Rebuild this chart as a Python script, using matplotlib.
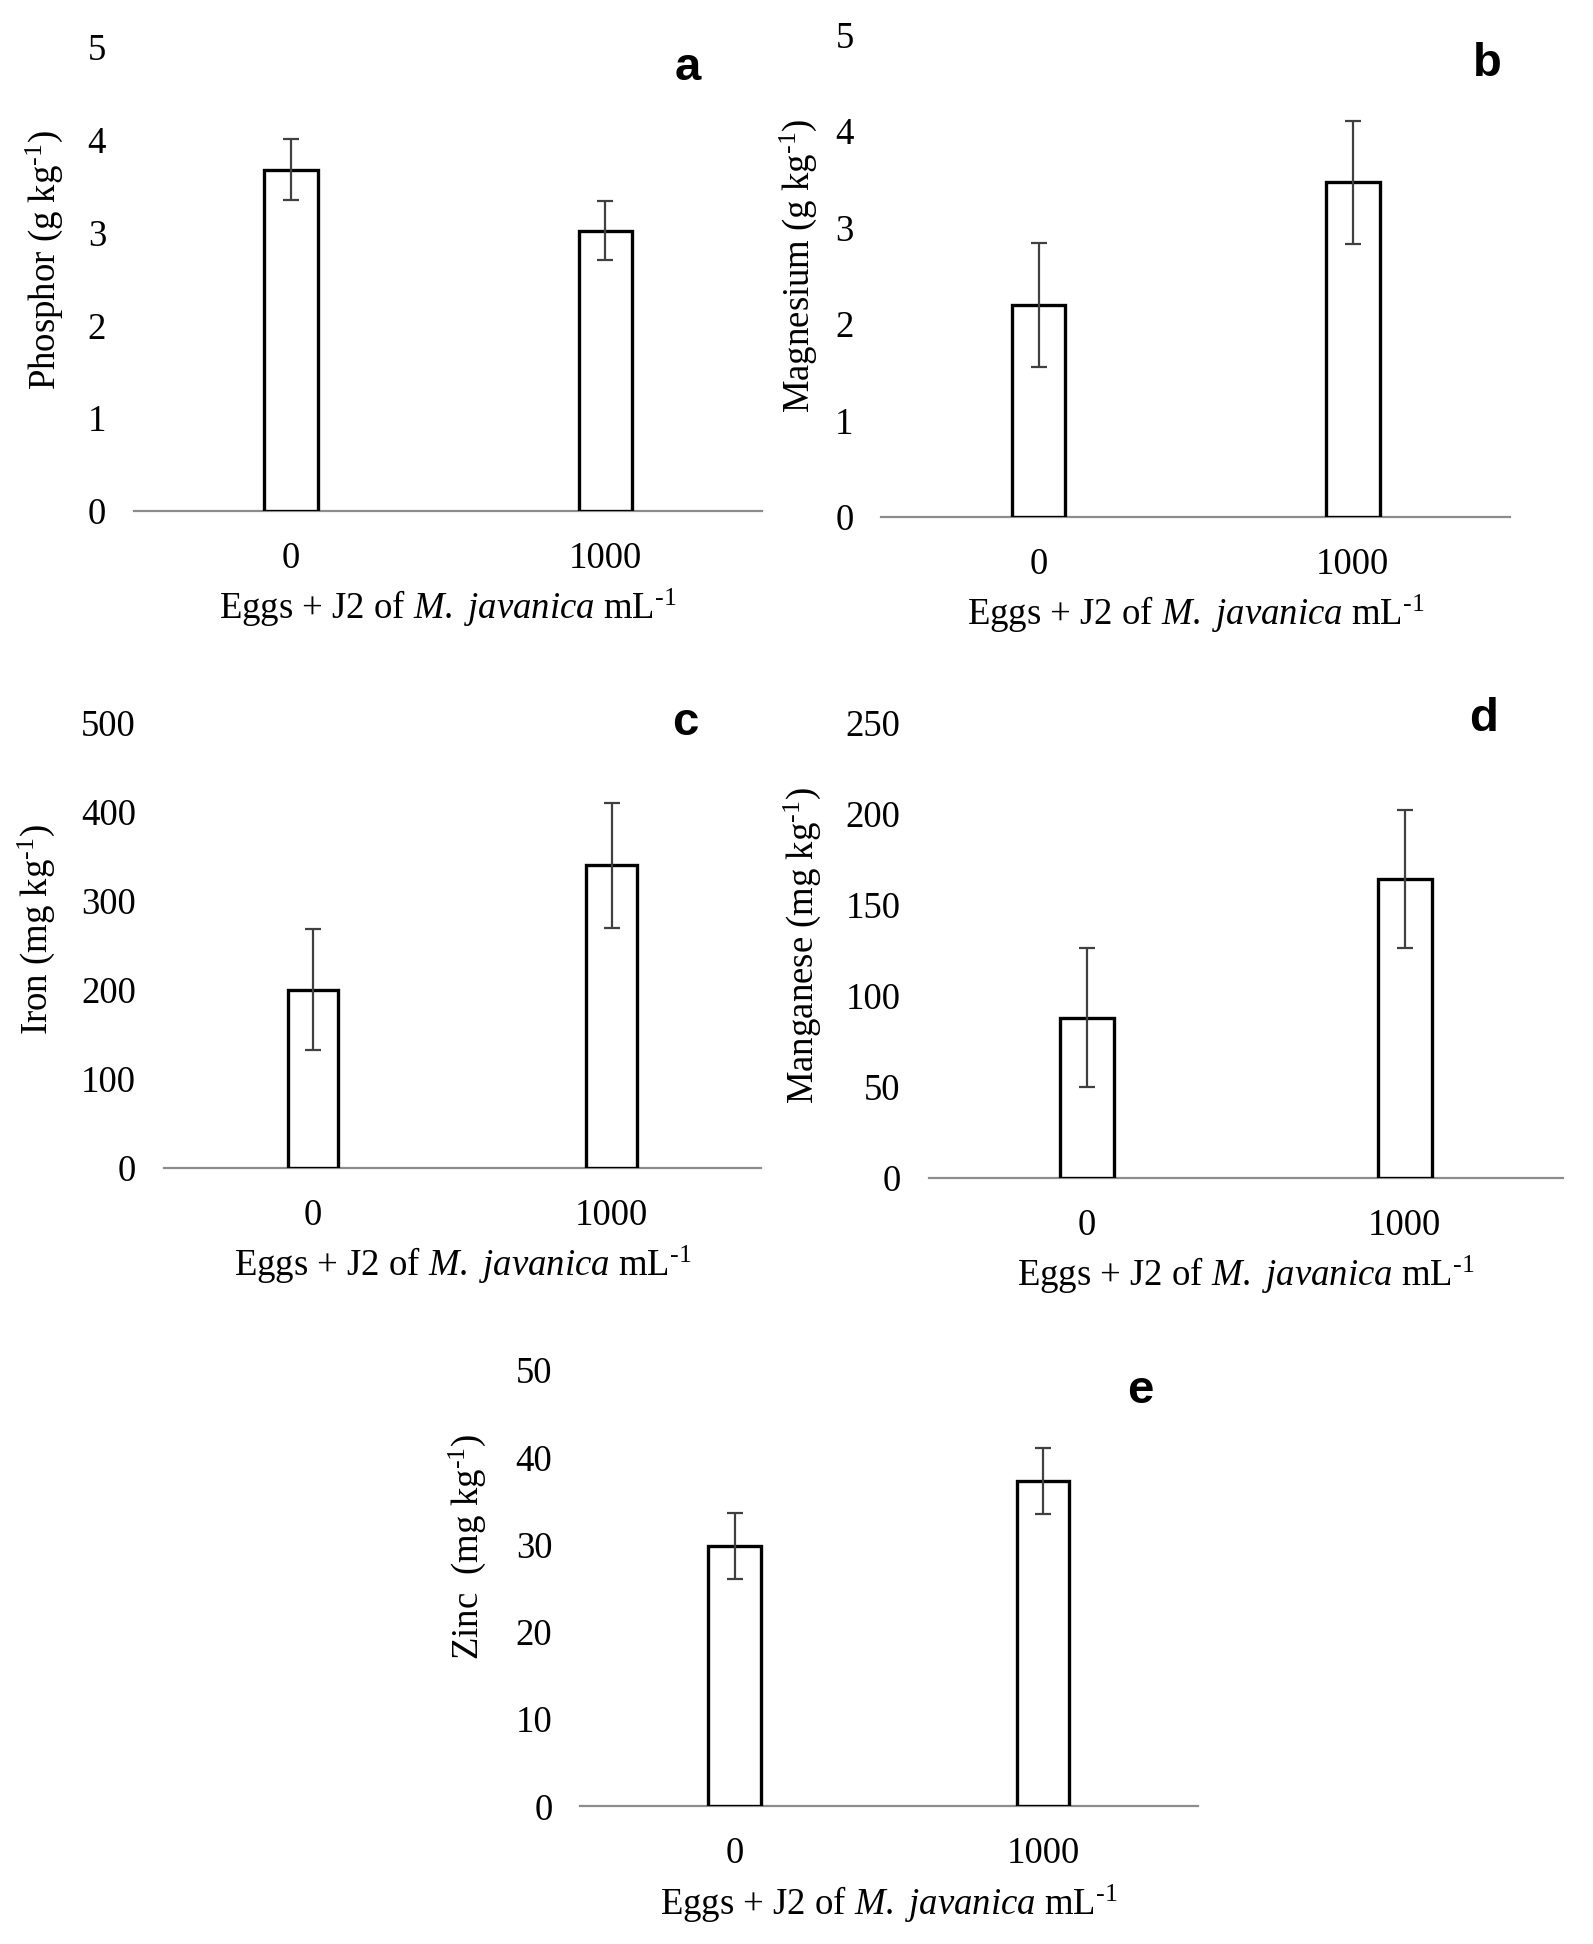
import matplotlib
matplotlib.use("Agg")
import matplotlib.pyplot as plt
import numpy as np

plt.rcParams['font.family'] = ['Liberation Serif', 'DejaVu Serif']
plt.rcParams['mathtext.fontset'] = 'custom'
plt.rcParams['mathtext.rm'] = 'Liberation Serif'
plt.rcParams['mathtext.it'] = 'Liberation Serif:italic'
plt.rcParams['mathtext.default'] = 'regular'

categories = ['0', '1000']

phosphor = [3.68, 3.02]
phosphor_err = [0.33, 0.32]
magnesium = [2.20, 3.47]
magnesium_err = [0.64, 0.64]
iron = [200, 340]
iron_err = [68, 70]
manganese = [88, 164]
manganese_err = [38, 38]
zinc = [29.8, 37.3]
zinc_err = [3.8, 3.8]

sup = r'$^{\text{-1}}$'
ylabels = ['Phosphor (g kg' + sup + ')', 'Magnesium (g kg' + sup + ')',
           'Iron (mg kg' + sup + ')', 'Manganese (mg kg' + sup + ')',
           'Zinc  (mg kg' + sup + ')']
yticks = [[0, 1, 2, 3, 4, 5], [0, 1, 2, 3, 4, 5],
          [0, 100, 200, 300, 400, 500], [0, 50, 100, 150, 200, 250],
          [0, 10, 20, 30, 40, 50]]
letters = ['a', 'b', 'c', 'd', 'e']
xlabel = r'Eggs + J2 of $\it{M.}$ $\it{javanica}$ mL' + sup

values = [phosphor, magnesium, iron, manganese, zinc]
errors = [phosphor_err, magnesium_err, iron_err, manganese_err, zinc_err]

W, H = 1285.0, 1568.0
# axes boxes in reference (shrunk) pixel coords: left, right, top, bottom
boxes = [(108, 615, 38, 412), (711, 1218, 28, 417), (132, 614, 583, 942),
         (749, 1261, 583, 950), (468, 966, 1105, 1457)]
ylab_pos = [(-0.109, 0.54), (-0.100, 0.52), (-0.179, 0.535), (-0.167, 0.51), (-0.149, 0.594)]
letter_pos = [(555, 55), (1200, 52), (553, 583), (1197, 580), (920, 1122)]

FS = 26.5

fig = plt.figure(figsize=(15.93, 19.44), dpi=100)

for i in range(5):
    l, r, t, b = boxes[i]
    ax = fig.add_axes([l / W, 1 - b / H, (r - l) / W, (b - t) / H])
    x = np.arange(len(categories))
    ax.bar(x, values[i], width=0.17, color='white', edgecolor='black', linewidth=2.4, zorder=2)
    ax.errorbar(x, values[i], yerr=errors[i], fmt='none', ecolor='#404040',
                elinewidth=1.6, capsize=6, capthick=1.6, zorder=3)
    ax.set_xlim(-0.5, 1.5)
    ax.set_ylim(yticks[i][0], yticks[i][-1])
    ax.set_yticks(yticks[i])
    ax.set_xticks(x)
    ax.set_xticklabels(categories)
    for s in ['top', 'right', 'left']:
        ax.spines[s].set_visible(False)
    ax.spines['bottom'].set_color('#8c8c8c')
    ax.spines['bottom'].set_linewidth(1.6)
    ax.spines['bottom'].set_zorder(1)
    ax.tick_params(axis='y', length=0, pad=20, labelsize=FS)
    ax.tick_params(axis='x', length=0, pad=22, labelsize=FS)
    ax.set_xlabel(xlabel, fontsize=FS, labelpad=8)
    ax.set_ylabel(ylabels[i], fontsize=FS)
    ax.yaxis.set_label_coords(*ylab_pos[i])
    lx, ly = letter_pos[i]
    fig.text(lx / W, 1 - ly / H, letters[i], fontsize=34, fontweight='bold',
             family='Liberation Sans', ha='center', va='center')

fig.savefig('out.png', dpi=100)
